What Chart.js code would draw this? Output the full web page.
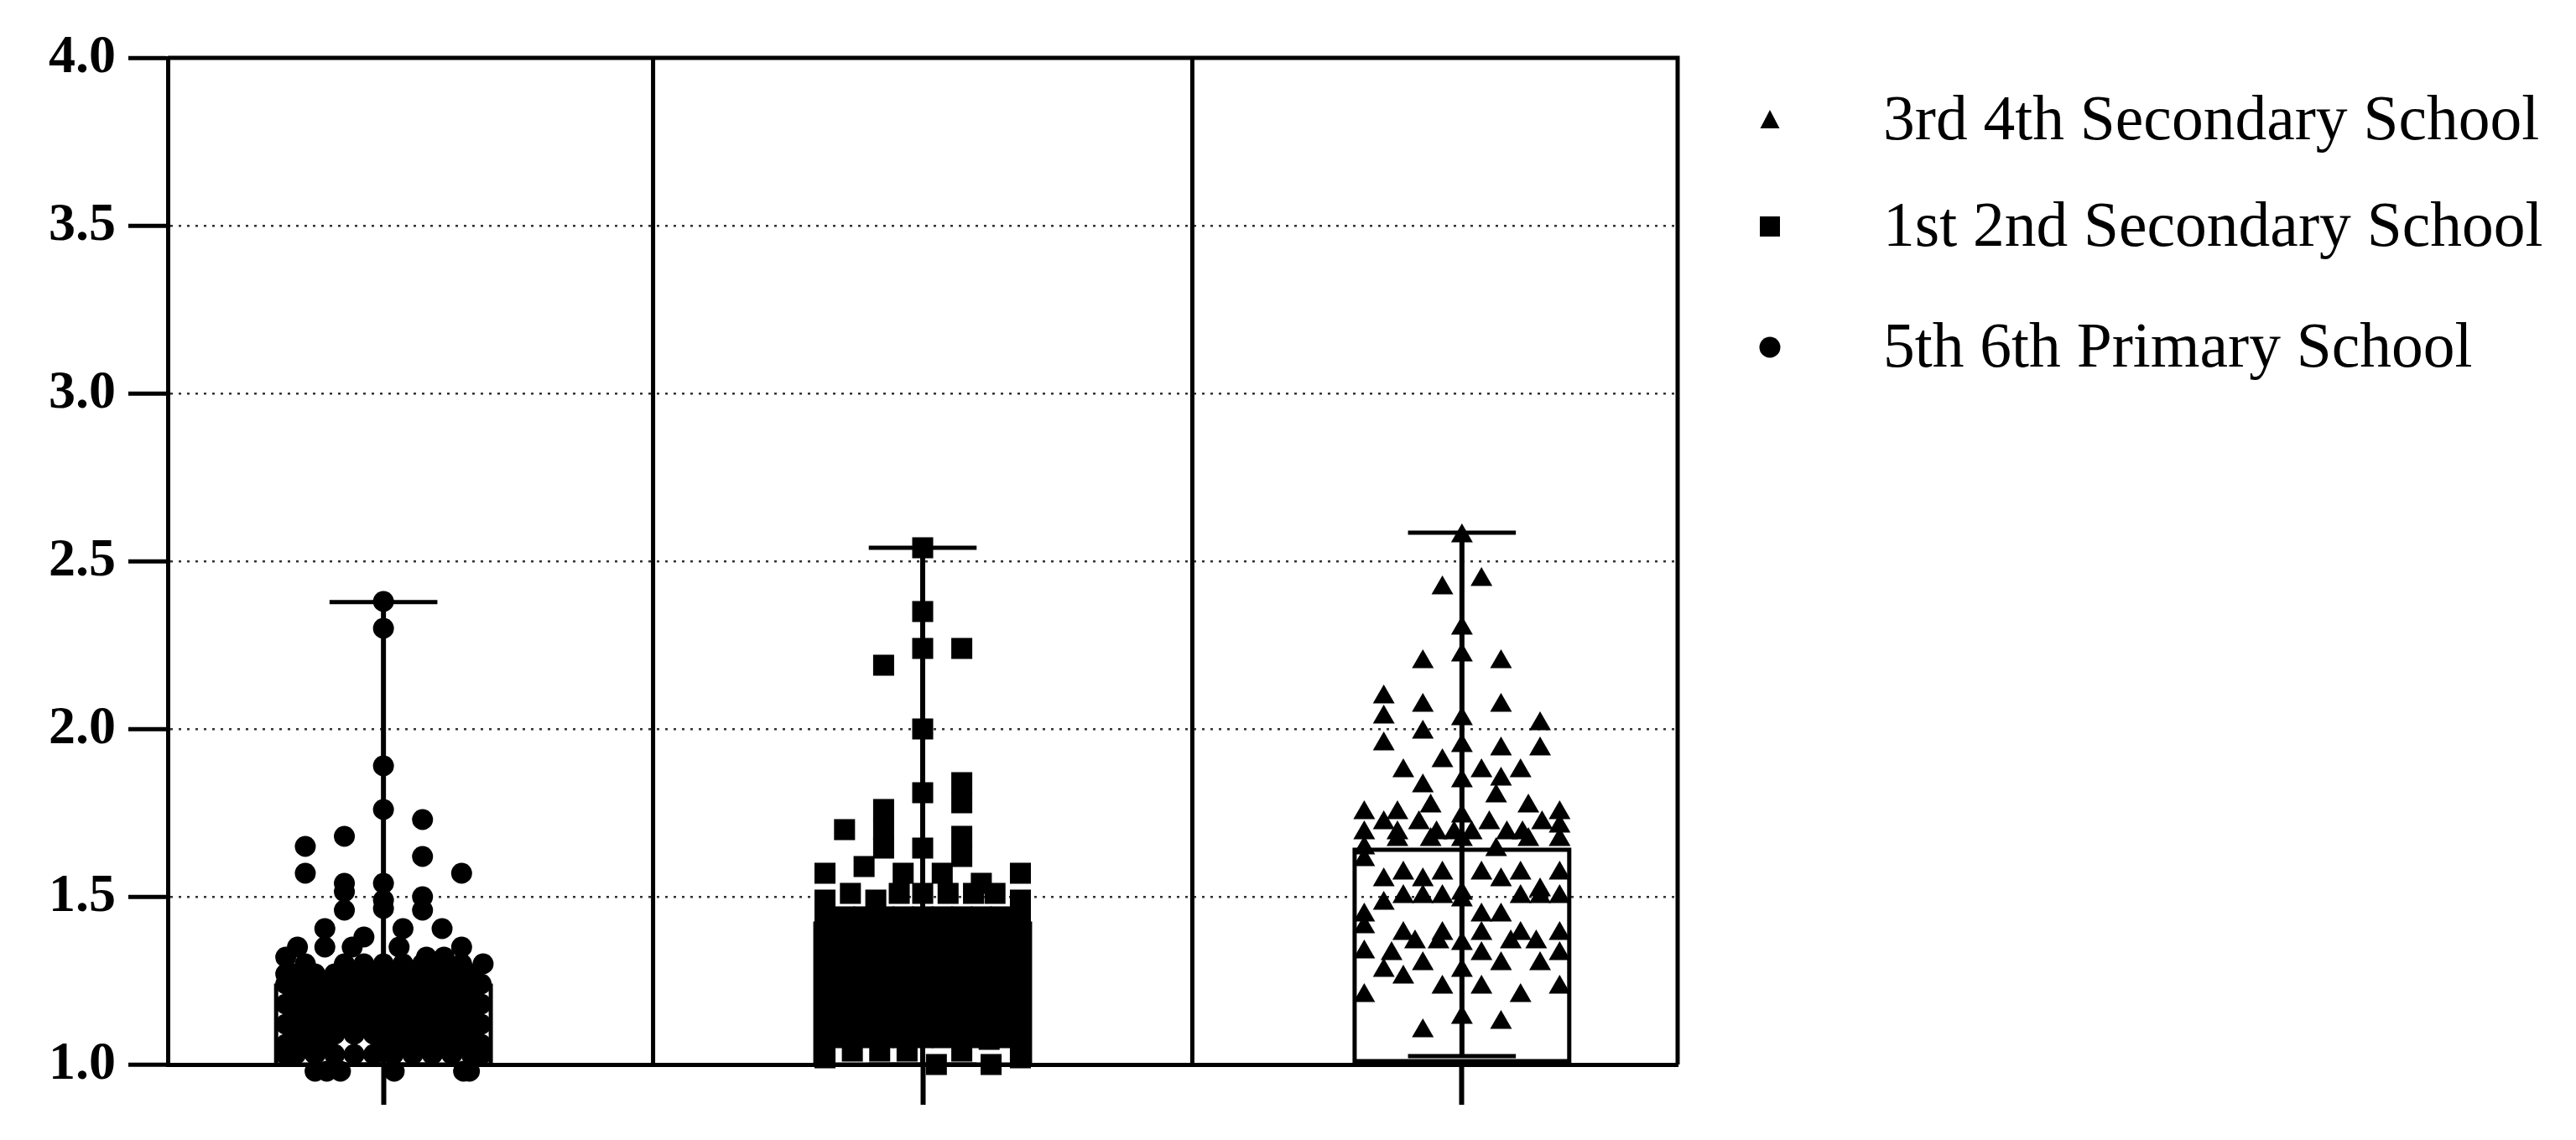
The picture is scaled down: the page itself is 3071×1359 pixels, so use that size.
<!DOCTYPE html>
<html>
<head>
<meta charset="utf-8">
<title>Scores by school year</title>
<script src="https://cdn.jsdelivr.net/npm/chart.js@4.4.1/dist/chart.umd.min.js"></script>
<style>
  html, body { margin: 0; padding: 0; background: #fff; }
  #wrap { width: 3071px; height: 1359px; position: relative; }
</style>
</head>
<body>
<div id="wrap"><canvas id="chart" width="3071" height="1359"></canvas></div>
<script>
/* groups, in x order */
const categories = ['5th 6th Primary School', '1st 2nd Secondary School', '3rd 4th Secondary School'];
const legendOrder = [2, 1, 0];

const yTicks = [1.0, 1.5, 2.0, 2.5, 3.0, 3.5, 4.0];

// box and whiskers, one value per group
const boxMin = [1.00, 1.00, 1.025];
const boxQ1 = [1.00, 1.00, 1.01];
const boxQ3 = [1.235, 1.42, 1.64];
const boxMax = [2.378, 2.54, 2.585];

// points : [jitter column, value]
const primaryPoints = [
  [0, 2.38], [0, 2.30], [0, 1.89], [0, 1.76], [2, 1.73], [-2, 1.68], [-4, 1.65], [2, 1.62], [-4, 1.57], [4, 1.57],
  [-2, 1.54], [-2, 1.515], [-2, 1.46], [0, 1.54], [0, 1.49], [0, 1.465], [2, 1.50], [2, 1.46],
  [-3, 1.405], [1, 1.405], [3, 1.405], [-1, 1.38], [-4.4, 1.35], [-3, 1.35], [-1.6, 1.35], [0.8, 1.35], [4, 1.35],
  [-5, 1.32], [2.2, 1.32], [3.1, 1.32], [5.1, 1.30], [-5, 1.27],
  [-4, 1.30], [-2, 1.30], [-1, 1.30], [0, 1.30], [1, 1.30], [2, 1.30], [3, 1.30], [4, 1.30],
  [-4.5, 1.27], [-3.5, 1.27], [-2.5, 1.27], [-1.5, 1.27], [-0.5, 1.27], [0.5, 1.27], [1.5, 1.27], [2.5, 1.27], [3.5, 1.27], [4.5, 1.27],
  [-5, 1.24], [-4, 1.24], [-3, 1.24], [-2, 1.24], [-1, 1.24], [0, 1.24], [1, 1.24], [2, 1.24], [3, 1.24], [4, 1.24], [5, 1.24],
  [-4.5, 1.21], [-3.5, 1.21], [-2.5, 1.21], [-1.5, 1.21], [-0.5, 1.21], [0.5, 1.21], [1.5, 1.21], [2.5, 1.21], [3.5, 1.21], [4.5, 1.21],
  [-5, 1.18], [-4, 1.18], [-3, 1.18], [-2, 1.18], [-1, 1.18], [0, 1.18], [1, 1.18], [2, 1.18], [3, 1.18], [4, 1.18], [5, 1.18],
  [-4.5, 1.15], [-3.5, 1.15], [-2.5, 1.15], [-1.5, 1.15], [-0.5, 1.15], [0.5, 1.15], [1.5, 1.15], [2.5, 1.15], [3.5, 1.15], [4.5, 1.15],
  [-5, 1.12], [-4, 1.12], [-3, 1.12], [-2, 1.12], [-1, 1.12], [0, 1.12], [1, 1.12], [2, 1.12], [3, 1.12], [4, 1.12], [5, 1.12],
  [-4.5, 1.09], [-3.5, 1.09], [-2.5, 1.09], [-1.5, 1.09], [-0.5, 1.09], [0.5, 1.09], [1.5, 1.09], [2.5, 1.09], [3.5, 1.09], [4.5, 1.09],
  [-5, 1.06], [-4, 1.06], [-3, 1.06], [0, 1.06], [1, 1.06], [2, 1.06], [3, 1.06], [4, 1.06], [5, 1.06],
  [-5, 1.03], [-4.5, 1.03], [-3.5, 1.03], [-2.5, 1.03], [-1.5, 1.03], [-0.5, 1.03], [0.5, 1.03], [1.5, 1.03], [2.5, 1.03], [3.5, 1.03], [4.5, 1.03], [5, 1.03],
  [-3.5, 0.98], [-2.9, 0.98], [-2.2, 0.98], [0.55, 0.98], [4.1, 0.98], [4.4, 0.98]
];

const secondaryPoints = [
  [0, 2.54], [0, 2.35], [0, 2.24], [2, 2.24], [-2, 2.19], [0, 2.00], [0, 1.81], [2, 1.84], [2, 1.78],
  [-2, 1.76], [-2, 1.70], [-2, 1.645], [-4, 1.70], [0, 1.645], [2, 1.68], [2, 1.62],
  [-5, 1.57], [-3, 1.59], [-1, 1.57], [1, 1.57], [3, 1.54], [5, 1.57],
  [-3.7, 1.51], [-1.2, 1.51], [0, 1.51], [1.3, 1.51], [2.6, 1.51], [3.7, 1.51], [-5, 1.49], [-2.4, 1.49], [5, 1.49], [5, 1.45],
  [-5, 1.44], [-4, 1.44], [-3, 1.44], [-2, 1.44], [-1, 1.44], [0, 1.44], [1, 1.44], [2, 1.44], [3, 1.44], [4, 1.44], [5, 1.44],
  [-5, 1.40], [-4, 1.40], [-3, 1.40], [-2, 1.40], [-1, 1.40], [0, 1.40], [1, 1.40], [2, 1.40], [3, 1.40], [4, 1.40], [5, 1.40],
  [-5, 1.36], [-4, 1.36], [-3, 1.36], [-2, 1.36], [-1, 1.36], [0, 1.36], [1, 1.36], [2, 1.36], [3, 1.36], [4, 1.36], [5, 1.36],
  [-5, 1.32], [-4, 1.32], [-3, 1.32], [-2, 1.32], [-1, 1.32], [0, 1.32], [1, 1.32], [2, 1.32], [3, 1.32], [4, 1.32], [5, 1.32],
  [-5, 1.28], [-4, 1.28], [-3, 1.28], [-2, 1.28], [-1, 1.28], [0, 1.28], [1, 1.28], [2, 1.28], [3, 1.28], [4, 1.28], [5, 1.28],
  [-5, 1.24], [-4, 1.24], [-3, 1.24], [-2, 1.24], [-1, 1.24], [0, 1.24], [1, 1.24], [2, 1.24], [3, 1.24], [4, 1.24], [5, 1.24],
  [-5, 1.20], [-4, 1.20], [-3, 1.20], [-2, 1.20], [-1, 1.20], [0, 1.20], [1, 1.20], [2, 1.20], [3, 1.20], [4, 1.20], [5, 1.20],
  [-5, 1.16], [-4, 1.16], [-3, 1.16], [-2, 1.16], [-1, 1.16], [0, 1.16], [1, 1.16], [2, 1.16], [3, 1.16], [4, 1.16], [5, 1.16],
  [-5, 1.12], [-4, 1.12], [-3, 1.12], [-2, 1.12], [-1, 1.12], [0, 1.12], [1, 1.12], [2, 1.12], [3, 1.12], [4, 1.12], [5, 1.12],
  [-5, 1.08], [-4, 1.08], [-3, 1.08], [-2, 1.08], [-1, 1.08], [0, 1.08], [1, 1.08], [2, 1.08], [3, 1.08], [4, 1.08], [5, 1.08],
  [-5, 1.04], [-3.6, 1.04], [-2.2, 1.04], [-0.8, 1.04], [2, 1.04], [3.4, 1.075], [5, 1.04], [-5, 1.02], [5, 1.02],
  [0.7, 1.00], [3.5, 1.00]
];

const tertiaryPoints = [
  [0, 2.575], [-1, 2.42], [1, 2.445], [0, 2.30], [0, 2.22], [-2, 2.20], [2, 2.20],
  [-4, 2.095], [-4, 2.035], [-4, 1.955], [-2, 2.07], [-2, 1.99], [0, 2.03], [0, 1.95], [2, 2.07], [4, 2.015], [4, 1.94], [2, 1.94],
  [-1, 1.905], [-3, 1.875], [1, 1.875], [3, 1.875], [0, 1.845], [-2, 1.83], [2, 1.85], [1.75, 1.80], [-1.6, 1.77], [3.4, 1.77],
  [-5, 1.75], [5, 1.75], [-3.3, 1.75], [-4, 1.72], [-2.2, 1.72], [0, 1.74], [1.4, 1.72], [4.1, 1.72], [5, 1.71],
  [-5, 1.69], [-3.3, 1.69], [-1.3, 1.69], [-0.4, 1.69], [0.5, 1.69], [2.3, 1.69], [3.1, 1.69],
  [-5, 1.645], [-3.3, 1.67], [-1.6, 1.67], [0, 1.67], [3.4, 1.67], [5, 1.67], [1.75, 1.64], [-5, 1.61],
  [-4, 1.55], [-3, 1.57], [-2, 1.55], [-1, 1.57], [1, 1.57], [2, 1.55], [3, 1.57], [5, 1.57], [4, 1.52], [0, 1.51],
  [-4, 1.48], [-3, 1.50], [-2, 1.50], [-1, 1.50], [0, 1.49], [3, 1.50], [4, 1.50], [5, 1.50],
  [-5, 1.445], [-5, 1.41], [1, 1.445], [2, 1.445], [-3, 1.39], [-2.4, 1.365], [-1, 1.39], [-1.2, 1.365], [0, 1.36],
  [1, 1.39], [1, 1.33], [2.5, 1.365], [3, 1.39], [3.8, 1.365], [5, 1.39], [5, 1.33],
  [-5, 1.335], [-3.6, 1.33], [-4, 1.28], [-2, 1.30], [2, 1.30], [4, 1.30], [0, 1.28], [-3, 1.26],
  [-1, 1.23], [1, 1.23], [5, 1.23], [-5, 1.205], [3, 1.205], [0, 1.14], [2, 1.125], [-2, 1.10]
];

const groupPoints = [primaryPoints, secondaryPoints, tertiaryPoints];

// look
const pointStyles = ['circle', 'rect', 'triangle'];
const pointRadii = [12.5, 17.7, 15];
const JITTER = 23.3 / 643;   // one jitter column, in category units
const BOX_HALF = 0.199;
const CAP_HALF = 0.1;

const datasets = groupPoints.map((pts, i) => ({
  label: categories[i],
  data: pts.map(p => ({ x: i + p[0] * JITTER, y: p[1] })),
  pointStyle: pointStyles[i],
  pointRadius: pointRadii[i],
  pointHoverRadius: pointRadii[i],
  backgroundColor: '#000',
  borderColor: '#000',
  borderWidth: 0,
  clip: false
}));

/* frame, separators and boxes */
const boxPlugin = {
  id: 'boxes',
  beforeDatasetsDraw(chart) {
    const { ctx, chartArea: a, scales: { x, y } } = chart;
    ctx.save();
    ctx.strokeStyle = '#000';
    ctx.lineCap = 'butt';

    // top + right + separators
    ctx.lineWidth = 5;
    ctx.beginPath();
    ctx.moveTo(a.left, a.top); ctx.lineTo(a.right, a.top);
    ctx.moveTo(a.right, a.top - 2.5); ctx.lineTo(a.right, a.bottom);
    [0.5, 1.5].forEach(v => {
      const px = x.getPixelForValue(v);
      ctx.moveTo(px, a.top); ctx.lineTo(px, a.bottom);
    });
    ctx.stroke();

    categories.forEach((c, i) => {
      const cx = x.getPixelForValue(i);
      const left = x.getPixelForValue(i - BOX_HALF);
      const right = x.getPixelForValue(i + BOX_HALF);
      const capL = x.getPixelForValue(i - CAP_HALF);
      const capR = x.getPixelForValue(i + CAP_HALF);
      const yMin = y.getPixelForValue(boxMin[i]);
      const yQ1 = y.getPixelForValue(boxQ1[i]);
      const yQ3 = y.getPixelForValue(boxQ3[i]);
      const yMax = y.getPixelForValue(boxMax[i]);

      ctx.lineWidth = 6;
      ctx.beginPath();
      ctx.moveTo(cx, yMin); ctx.lineTo(cx, yMax);
      ctx.stroke();

      ctx.lineWidth = 5;
      ctx.strokeRect(left, yQ3, right - left, yQ1 - yQ3);

      ctx.beginPath();
      ctx.moveTo(capL, yMax); ctx.lineTo(capR, yMax);
      ctx.moveTo(capL, yMin); ctx.lineTo(capR, yMin);
      ctx.stroke();
    });
    ctx.restore();
  }
};

/* legend on the right */
const legendPlugin = {
  id: 'sideLegend',
  afterDraw(chart) {
    const ctx = chart.ctx;
    const rows = [{ my: 144, base: 166 }, { my: 270, base: 293 }, { my: 414, base: 437 }];
    const mx = 2110;
    ctx.save();
    ctx.fillStyle = '#000';
    legendOrder.forEach((g, r) => {
      const my = rows[r].my;
      ctx.beginPath();
      if (pointStyles[g] === 'triangle') {
        ctx.moveTo(mx, my - 13);
        ctx.lineTo(mx + 11.5, my + 9);
        ctx.lineTo(mx - 11.5, my + 9);
        ctx.closePath();
      } else if (pointStyles[g] === 'rect') {
        ctx.rect(mx - 12, my - 12, 24, 24);
      } else {
        ctx.arc(mx, my, 12.5, 0, Math.PI * 2);
      }
      ctx.fill();

      ctx.font = '75.5px "Liberation Serif"';
      ctx.textAlign = 'left';
      ctx.textBaseline = 'alphabetic';
      ctx.fillText(categories[g], 2245, rows[r].base);
    });
    ctx.restore();
  }
};

new Chart(document.getElementById('chart'), {
  type: 'scatter',
  data: { datasets },
  plugins: [boxPlugin, legendPlugin],
  options: {
    responsive: false,
    animation: false,
    devicePixelRatio: 1,
    events: [],
    layout: { padding: { left: 0, right: 1071, top: 69, bottom: 0 } },
    plugins: { legend: { display: false }, tooltip: { enabled: false } },
    scales: {
      x: {
        type: 'linear',
        min: -0.4,
        max: 2.4,
        afterBuildTicks: axis => { axis.ticks = categories.map((c, i) => ({ value: i })); },
        afterFit: axis => { axis.height = 90; },
        ticks: { display: false },
        grid: { drawOnChartArea: false, drawTicks: true, tickLength: 48, tickWidth: 6, tickColor: '#000', color: '#000' },
        border: { display: true, color: '#000', width: 5 }
      },
      y: {
        min: 1,
        max: 4,
        afterBuildTicks: axis => { axis.ticks = yTicks.map(v => ({ value: v })); },
        afterFit: axis => { axis.width = 200; },
        ticks: {
          padding: 15,
          color: '#000',
          font: { family: 'Liberation Serif', size: 64, weight: 'bold' },
          callback: v => Number(v).toFixed(1)
        },
        grid: {
          color: '#333',
          lineWidth: 2.5,
          tickLength: 47,
          tickWidth: 5,
          tickColor: '#000',
          tickBorderDash: []
        },
        border: { display: true, color: '#000', width: 5, dash: [3, 7] }
      }
    }
  }
});
</script>
</body>
</html>
